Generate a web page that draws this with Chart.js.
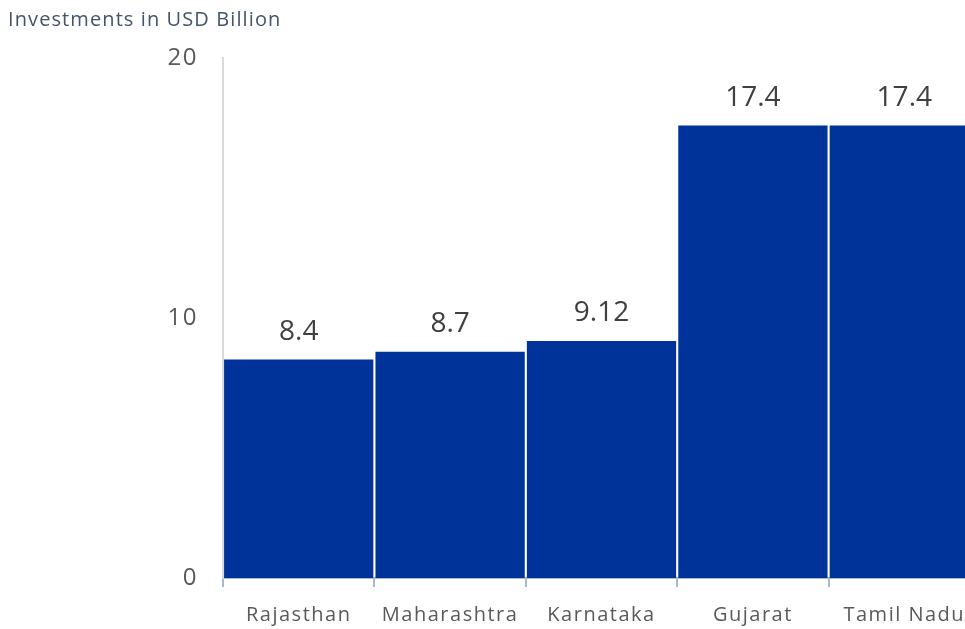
<!DOCTYPE html>
<html>
<head>
<meta charset="utf-8">
<script src="https://cdn.jsdelivr.net/npm/chart.js@4"></script>
<style>
  html, body { margin: 0; padding: 0; background: #fff; overflow: hidden; }
  #wrap { position: relative; width: 980px; height: 629px; }
</style>
</head>
<body>
<div id="wrap"><canvas id="myChart" width="980" height="629"></canvas></div>
<script>
var states = ['Rajasthan', 'Maharashtra', 'Karnataka', 'Gujarat', 'Tamil Nadu'];
var investments = [8.4, 8.7, 9.12, 17.4, 17.4];
var valueLabels = ['8.4', '8.7', '9.12', '17.4', '17.4'];
var yTicks = [0, 10, 20];
var chartTitle = 'Investments in USD Billion';

// wider letter spacing for the axis text, like the original
var spacing = {
    id: 'spacing',
    beforeDraw: function(chart) {
        chart.ctx.letterSpacing = '1.5px';
    },
    beforeDatasetsDraw: function(chart) {
        chart.ctx.letterSpacing = '0px';
    }
};

// title in the top left corner + value above each bar
var extraText = {
    id: 'extraText',
    afterDatasetsDraw: function(chart) {
        var ctx = chart.ctx;
        ctx.save();
        ctx.letterSpacing = '1.1px';
        ctx.fillStyle = '#44546a';
        ctx.font = '500 20px "Open Sans"';
        ctx.textAlign = 'left';
        ctx.textBaseline = 'middle';
        ctx.fillText(chartTitle, 8, 20);

        ctx.letterSpacing = '0px';
        ctx.fillStyle = '#404040';
        ctx.font = '28px "Open Sans"';
        ctx.textAlign = 'center';
        ctx.textBaseline = 'alphabetic';
        chart.getDatasetMeta(0).data.forEach(function(bar, i) {
            ctx.fillText(valueLabels[i], bar.x, bar.y - 20);
        });
        ctx.restore();
    }
};

var ctx = document.getElementById('myChart').getContext('2d');
new Chart(ctx, {
    type: 'bar',
    data: {
        labels: states,
        datasets: [{
            data: investments,
            backgroundColor: '#003399',
            categoryPercentage: 1,
            barPercentage: 0.986
        }]
    },
    options: {
        responsive: false,
        animation: false,
        layout: { padding: { top: 58, left: 0, right: 0, bottom: 0 } },
        plugins: {
            legend: { display: false },
            tooltip: { enabled: false }
        },
        scales: {
            x: {
                grid: {
                    display: true,
                    drawOnChartArea: false,
                    drawTicks: true,
                    tickLength: 9,
                    color: '#a9b8cf',
                    lineWidth: 2
                },
                border: { display: true, color: '#a9b8cf', width: 2 },
                ticks: {
                    color: '#595959',
                    font: { family: '"Open Sans"', size: 20 },
                    padding: 16
                },
                afterFit: function(scale) { scale.height = 51; }
            },
            y: {
                min: 0,
                max: 20,
                afterBuildTicks: function(scale) {
                    scale.ticks = yTicks.map(function(v) { return { value: v }; });
                },
                grid: { display: false, drawTicks: false },
                border: { display: true, color: '#d9d9d9', width: 2 },
                ticks: {
                    color: '#595959',
                    font: { family: '"Open Sans"', size: 24 },
                    padding: 25
                },
                afterFit: function(scale) { scale.width = 223; }
            }
        }
    },
    plugins: [spacing, extraText]
});
</script>
</body>
</html>
